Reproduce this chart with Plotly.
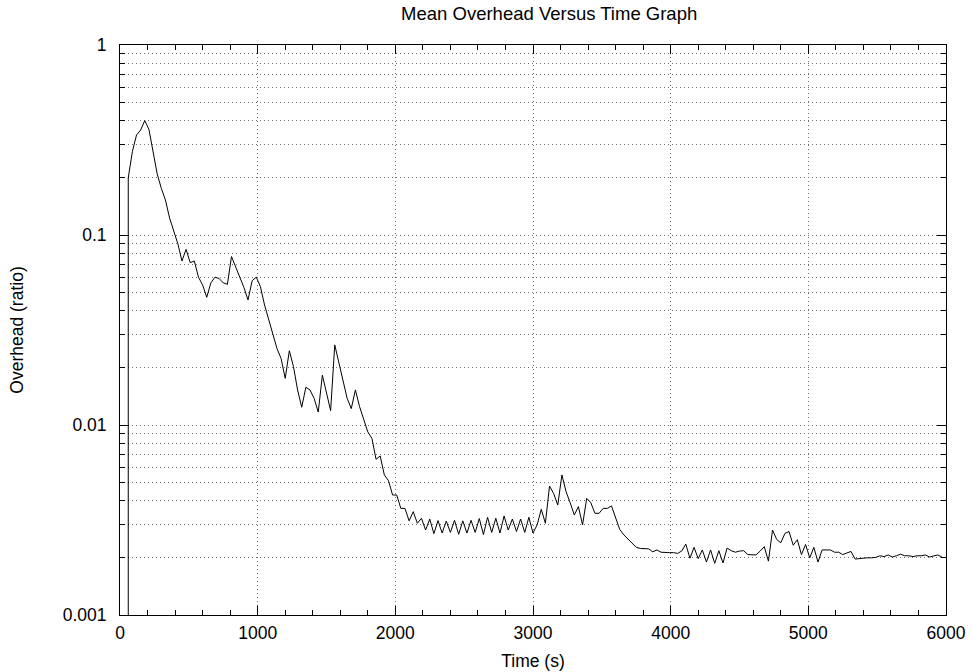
import plotly.graph_objects as go

# ---- data ----
time_s = [
    60, 90, 120, 150, 180, 210, 240, 270, 300, 330,
    360, 390, 420, 450, 480, 510, 540, 570, 600, 630,
    660, 690, 720, 750, 780, 810, 840, 870, 900, 930,
    960, 990, 1020, 1050, 1080, 1110, 1140, 1170, 1200, 1230,
    1260, 1290, 1320, 1350, 1380, 1410, 1440, 1470, 1500, 1530,
    1560, 1590, 1620, 1650, 1680, 1710, 1740, 1770, 1800, 1830,
    1860, 1890, 1920, 1950, 1980, 2010, 2040, 2070, 2100, 2130,
    2160, 2190, 2220, 2250, 2280, 2310, 2340, 2370, 2400, 2430,
    2460, 2490, 2520, 2550, 2580, 2610, 2640, 2670, 2700, 2730,
    2760, 2790, 2820, 2850, 2880, 2910, 2940, 2970, 3000, 3030,
    3060, 3090, 3120, 3150, 3180, 3210, 3240, 3270, 3300, 3330,
    3360, 3390, 3420, 3450, 3480, 3510, 3540, 3570, 3600, 3630,
    3660, 3690, 3720, 3750, 3780, 3810, 3840, 3870, 3900, 3930,
    3960, 3990, 4020, 4050, 4080, 4110, 4140, 4170, 4200, 4230,
    4260, 4290, 4320, 4350, 4380, 4410, 4440, 4470, 4500, 4530,
    4560, 4590, 4620, 4650, 4680, 4710, 4740, 4770, 4800, 4830,
    4860, 4890, 4920, 4950, 4980, 5010, 5040, 5070, 5100, 5130,
    5160, 5190, 5220, 5250, 5280, 5310, 5340, 5370, 5400, 5430,
    5460, 5490, 5520, 5550, 5580, 5610, 5640, 5670, 5700, 5730,
    5760, 5790, 5820, 5850, 5880, 5910, 5940, 5970,
]
overhead = [
    0.200, 0.275, 0.336, 0.357, 0.400, 0.360, 0.280, 0.210, 0.176, 0.153,
    0.123, 0.106, 0.090, 0.073, 0.084, 0.0715, 0.073, 0.060, 0.0546, 0.047,
    0.056, 0.060, 0.059, 0.056, 0.055, 0.077, 0.068, 0.060, 0.053, 0.0455,
    0.0575, 0.060, 0.0535, 0.0428, 0.0357, 0.0304, 0.0253, 0.0224, 0.0176, 0.0246,
    0.0203, 0.0153, 0.0124, 0.0158, 0.0153, 0.0138, 0.0117, 0.0183, 0.0150, 0.0119,
    0.0264, 0.0211, 0.0169, 0.0138, 0.0122, 0.0153, 0.0125, 0.0106, 0.0092, 0.0085,
    0.0066, 0.00687, 0.00546, 0.0051, 0.00428, 0.00428, 0.00364, 0.00364, 0.00313, 0.00350,
    0.00304, 0.00323, 0.00280, 0.00320, 0.00268, 0.00314, 0.00270, 0.00312, 0.00272, 0.00315,
    0.00266, 0.00313, 0.00270, 0.00315, 0.00272, 0.00322, 0.00265, 0.00327, 0.00272, 0.00323,
    0.00270, 0.00332, 0.00280, 0.00320, 0.00275, 0.00320, 0.00272, 0.00327, 0.00270, 0.00298,
    0.00360, 0.00304, 0.00477, 0.00436, 0.00379, 0.00546, 0.00446, 0.00390, 0.00336, 0.00372,
    0.00298, 0.00411, 0.00390, 0.00343, 0.00343, 0.00364, 0.00364, 0.00375, 0.00323, 0.00282,
    0.00264, 0.00252, 0.00238, 0.00227, 0.00224, 0.00224, 0.00223, 0.00215, 0.00220, 0.00214,
    0.00213, 0.00213, 0.00213, 0.00211, 0.00217, 0.00236, 0.00199, 0.00227, 0.00198, 0.00220,
    0.00190, 0.00220, 0.00187, 0.00218, 0.00188, 0.00225, 0.00218, 0.00214, 0.00217, 0.00218,
    0.00208, 0.00207, 0.00207, 0.00217, 0.00229, 0.00192, 0.00280, 0.00250, 0.00240, 0.00269,
    0.00275, 0.00233, 0.00249, 0.00208, 0.00235, 0.00200, 0.00227, 0.00190, 0.00220, 0.00220,
    0.00220, 0.00214, 0.00214, 0.00208, 0.00212, 0.00216, 0.00197, 0.00198, 0.00200, 0.00200,
    0.00200, 0.00201, 0.00205, 0.00203, 0.00207, 0.00202, 0.00205, 0.00209, 0.00205, 0.00205,
    0.00203, 0.00205, 0.00205, 0.00207, 0.00202, 0.00205, 0.00207, 0.00202,
]
# the trace starts from zero overhead (drawn off the bottom of the log axis)
start_time = [60]
start_overhead = [1e-6]

x_ticks = [0, 1000, 2000, 3000, 4000, 5000, 6000]
x_minor_ticks = [200, 400, 600, 800, 1200, 1400, 1600, 1800, 2200, 2400, 2600, 2800,
                 3200, 3400, 3600, 3800, 4200, 4400, 4600, 4800, 5200, 5400, 5600, 5800]
y_ticks = [0.001, 0.01, 0.1, 1]
y_tick_text = ["0.001", "0.01", "0.1", "1"]
y_minor_ticks = [m * d for d in (0.001, 0.01, 0.1) for m in range(2, 10)]

FONT = "Liberation Sans, Arial, sans-serif"
GRID = dict(gridcolor="#707070", griddash="1px,3px", gridwidth=1)

fig = go.Figure()
fig.add_trace(go.Scatter(
    x=start_time + time_s,
    y=start_overhead + overhead,
    mode="lines",
    line=dict(color="black", width=1),
    showlegend=False,
    hoverinfo="skip",
))

fig.update_layout(
    width=972, height=672,
    margin=dict(l=120, r=26, t=45, b=57),
    paper_bgcolor="white",
    plot_bgcolor="white",
    font=dict(family=FONT, size=17, color="black"),
    title=dict(text="Mean Overhead Versus Time Graph", x=0.565, xanchor="center",
               y=0.980, yanchor="middle", font=dict(family=FONT, size=18.5, color="black")),
)

fig.update_xaxes(
    range=[0, 6000],
    automargin=False,
    tickmode="array", tickvals=x_ticks,
    ticks="inside", ticklen=9, tickwidth=1, tickcolor="black",
    showline=True, linecolor="black", linewidth=1, mirror="allticks",
    showgrid=True, **GRID,
    zeroline=False,
    ticklabelstandoff=2,
    tickfont=dict(family=FONT, size=17.5),
    title=dict(text="Time (s)", font=dict(family=FONT, size=17.5), standoff=12),
    minor=dict(tickmode="array", tickvals=x_minor_ticks, ticks="inside",
               ticklen=5, tickcolor="black", showgrid=False),
)
fig.update_yaxes(
    type="log",
    range=[-3, 0],
    automargin=False,
    tickmode="array", tickvals=y_ticks, ticktext=y_tick_text,
    ticks="inside", ticklen=9, tickwidth=1, tickcolor="black",
    showline=True, linecolor="black", linewidth=1, mirror="allticks",
    showgrid=True, **GRID,
    zeroline=False,
    ticklabelstandoff=9,
    tickfont=dict(family=FONT, size=17.5),
    title=dict(text="Overhead (ratio)", font=dict(family=FONT, size=17.5), standoff=34),
    minor=dict(tickmode="array", tickvals=y_minor_ticks, ticks="inside",
               ticklen=5, tickcolor="black", showgrid=True, **GRID),
)

fig.write_html("out.html")
